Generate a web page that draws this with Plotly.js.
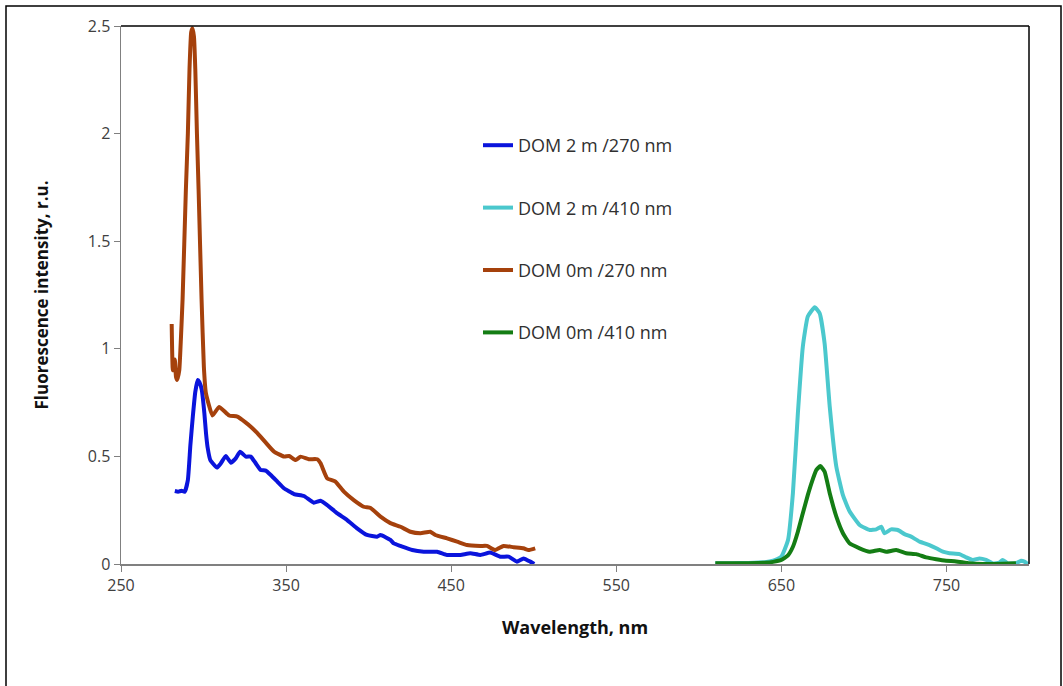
<!DOCTYPE html>
<html>
<head>
<meta charset="utf-8">
<script src="https://cdn.plot.ly/plotly-3.0.1.min.js"></script>
<style>html,body{margin:0;padding:0;background:#fff;}#chart{width:1063px;height:686px;}</style>
</head>
<body>
<div id="chart"></div>
<script>
// DOM 2 m / 270 nm (blue)
const blueX = [282.6,284.6,286.6,288.6,290.5,292,293.5,295,296.5,297.5,298.9,300.5,301.5,302.5,304.1,308.1,310.5,313.5,316.5,319.5,322.1,325.6,328.6,331.6,334.6,337.7,340.7,344.7,348.7,354.8,360.8,366.8,370.9,374.9,380.9,387,393,399,405.1,407.2,413.2,415.2,419.3,426.4,433.4,441.5,447.5,455.6,461.6,467.7,473.7,479.7,484.8,489.8,493.8,497.9,500.3];
const blueY = [0.339,0.336,0.34,0.336,0.39,0.55,0.685,0.80,0.855,0.845,0.81,0.70,0.607,0.54,0.483,0.448,0.468,0.502,0.471,0.491,0.522,0.499,0.499,0.468,0.437,0.434,0.414,0.383,0.352,0.325,0.316,0.285,0.294,0.274,0.236,0.204,0.166,0.135,0.127,0.135,0.112,0.096,0.084,0.065,0.057,0.057,0.042,0.042,0.05,0.042,0.053,0.034,0.034,0.011,0.026,0.011,0.0];
// DOM 2 m / 410 nm (cyan)
const cyanX = [610,620,630,640,645,650,654,657,660,663,666,670.2,673.2,676.2,679.3,683.3,687.3,691.3,697.4,703.4,707.5,710.5,712.5,716.5,720.5,724.6,728.6,733.7,739.7,743.8,747.8,751.8,757.9,761.9,765.9,770,774,778,782,784,787.1,792.1,795.2,797.2,799.2];
const cyanY = [0.003,0.004,0.005,0.008,0.015,0.034,0.11,0.33,0.70,1.01,1.15,1.193,1.165,1.025,0.731,0.452,0.32,0.245,0.181,0.158,0.161,0.173,0.143,0.161,0.158,0.139,0.127,0.104,0.088,0.073,0.057,0.05,0.046,0.031,0.019,0.026,0.019,0.003,0.006,0.019,0.003,0.003,0.015,0.011,0.0];
// DOM 0m / 270 nm (brown)
const brownX = [280.7,281.4,282.6,283.3,284.0,285.3,286.3,287.3,289.3,290.5,291.5,292.5,293.3,294.2,295,296,297,298.8,300.2,301.4,305.4,309.4,315.5,320.5,325.6,328.6,332.6,337.7,342.7,348.8,351.8,355.8,358.8,363.8,368.9,370.9,374.9,379.9,385,391,397,401.2,407.2,413.2,419.3,425.3,431.4,437.4,440.4,447.5,453.6,459.6,467.7,471.7,476.7,481.7,487.8,493.8,496.9,500.9];
const brownY = [1.115,0.90,0.95,0.87,0.855,0.9,1.05,1.23,1.74,2.0,2.3,2.47,2.49,2.45,2.3,2.0,1.74,1.23,0.915,0.795,0.69,0.73,0.69,0.685,0.657,0.638,0.608,0.564,0.522,0.499,0.502,0.483,0.499,0.487,0.487,0.468,0.398,0.383,0.336,0.297,0.266,0.26,0.22,0.19,0.173,0.15,0.143,0.15,0.135,0.119,0.104,0.088,0.084,0.084,0.065,0.084,0.078,0.073,0.065,0.073];
// DOM 0m / 410 nm (green)
const greenX = [610,620,630,640,645,650,654,657,660,663,666,668.2,671.2,673.6,676.2,679.3,683.3,687.3,691.3,697.4,703.4,709.5,713.5,719.6,725.6,731.7,737.7,743.8,749.8,755.9,763.9,772,780,792.1];
const greenY = [0.003,0.003,0.004,0.006,0.01,0.019,0.04,0.08,0.15,0.236,0.32,0.375,0.437,0.455,0.429,0.329,0.22,0.143,0.096,0.073,0.057,0.065,0.057,0.065,0.05,0.046,0.031,0.022,0.015,0.012,0.003,0.0,0.0,0.003];

const names = ["DOM 2 m /270 nm","DOM 2 m /410 nm","DOM 0m /270 nm","DOM 0m /410 nm"];
const xTicks = [250,350,450,550,650,750];
const yTicks = [0,0.5,1,1.5,2,2.5];
const yTickText = ["0","0.5","1","1.5","2","2.5"];

const colors = ["rgb(10,20,220)","rgb(75,200,205)","rgb(165,65,12)","rgb(20,125,20)"];
const series = [[blueX,blueY],[cyanX,cyanY],[brownX,brownY],[greenX,greenY]];
const traces = series.map((s,i)=>({
  x:s[0], y:s[1], type:'scatter', mode:'lines', name:names[i],
  legendgroup:'g'+i, line:{color:colors[i], width:4, shape:'spline', smoothing:0.4}
}));

const W=1063,H=686,L=121,R=34,T=26,B=122;
const pw=W-L-R, ph=H-T-B;
const px = v => (v-L)/pw, py = v => (H-B-v)/ph;

const layout = {
  width:W, height:H,
  margin:{l:L,r:R,t:T,b:B},
  paper_bgcolor:'#fff', plot_bgcolor:'#fff',
  font:{family:'Open Sans, sans-serif', color:'#404040'},
  xaxis:{range:[250,800], tickvals:xTicks, ticks:'outside', ticklen:6, tickcolor:'#808080',
    showline:true, linecolor:'#808080', linewidth:1.5, showgrid:false, zeroline:false,
    tickfont:{size:16, color:'#404040'},
    title:{text:'<b>Wavelength, nm</b>', font:{size:18, color:'#111', family:'Open Sans, sans-serif'}, standoff:26}},
  yaxis:{range:[0,2.5], tickvals:yTicks, ticktext:yTickText, ticks:'outside', ticklen:6, tickcolor:'#808080',
    showline:true, linecolor:'#808080', linewidth:1.5, showgrid:false, zeroline:false,
    tickfont:{size:16, color:'#404040'},
    title:{text:'<b>Fluorescence intensity, r.u.</b>', font:{size:17, color:'#111', family:'Open Sans, sans-serif'}, standoff:35}},
  showlegend:true,
  legend:{x:px(478), y:py(127), xanchor:'left', yanchor:'top', bgcolor:'rgba(0,0,0,0)',
    font:{size:18, color:'#303030', family:'Open Sans, sans-serif'},
    tracegroupgap:36, traceorder:'grouped'},
  shapes:[
    {type:'line', xref:'paper', yref:'paper', x0:0, x1:1, y0:1, y1:1, line:{color:'#000', width:1.5}},
    {type:'line', xref:'paper', yref:'paper', x0:1, x1:1, y0:0, y1:1, line:{color:'#000', width:1.5}},
    {type:'rect', xref:'paper', yref:'paper', x0:px(6), x1:px(1061), y0:py(700), y1:py(6), line:{color:'#000', width:1.5}}
  ]
};
Plotly.newPlot('chart', traces, layout, {displayModeBar:false, staticPlot:true});
</script>
</body>
</html>
